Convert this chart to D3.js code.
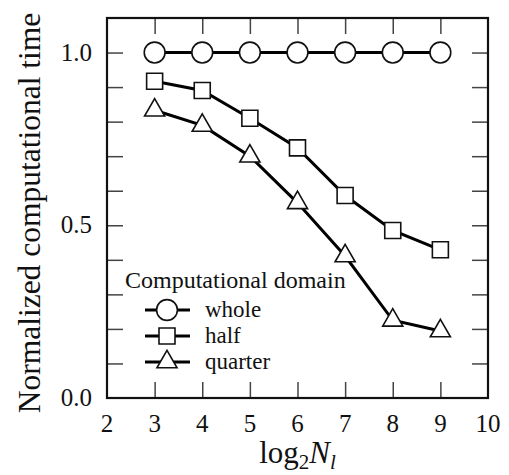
<!DOCTYPE html>
<html lang="en">
  <head>
    <meta charset="UTF-8" />
    <script src="https://d3js.org/d3.v7.min.js"></script>
    <title>Normalized computational time</title>
    <style>
      body { margin: 0; background: #fff; }
    </style>
  </head>
  <body>
    <div id="chart-container"></div>

    <script>
      // data
      const levels = [3, 4, 5, 6, 7, 8, 9];
      const whole = [1.0, 1.0, 1.0, 1.0, 1.0, 1.0, 1.0];
      const half = [0.917, 0.890, 0.810, 0.724, 0.586, 0.485, 0.429];
      const quarter = [0.833, 0.789, 0.700, 0.565, 0.411, 0.225, 0.194];
      const seriesNames = ["whole", "half", "quarter"];
      const xTickLabels = [2, 3, 4, 5, 6, 7, 8, 9, 10];
      const yTickLabels = [0.0, 0.5, 1.0];

      const series = [
        { name: "whole", values: whole, shape: d3.symbolCircle, size: 340 },
        { name: "half", values: half, shape: d3.symbolSquare, size: 256 },
        { name: "quarter", values: quarter, shape: d3.symbolTriangle, size: 175 },
      ];

      const serif = "'Liberation Serif', 'DejaVu Serif', serif";
      const W = 509, H = 475;
      const margin = { top: 18, right: 21, bottom: 77, left: 107 };
      const width = W - margin.left - margin.right;
      const height = H - margin.top - margin.bottom;

      const svg = d3
        .select("#chart-container")
        .append("svg")
        .attr("width", W)
        .attr("height", H)
        .attr("font-family", serif)
        .append("g")
        .attr("transform", "translate(" + margin.left + "," + margin.top + ")");

      const x = d3.scaleLinear().domain([2, 10]).range([0, width]);
      const y = d3.scaleLinear().domain([0, 1.1]).range([height, 0]);

      const tickLen = 16;
      const minorY = d3.range(1, 11).map((d) => d / 10);

      // inward ticks on all four sides
      const styleAxis = (g) => {
        g.select(".domain").remove();
        g.selectAll(".tick line").attr("stroke", "#444").attr("stroke-width", 1.5);
      };

      svg.append("g")
        .attr("transform", "translate(0," + height + ")")
        .call(d3.axisBottom(x).tickValues(levels).tickSize(-tickLen).tickFormat(""))
        .call(styleAxis);
      svg.append("g")
        .call(d3.axisTop(x).tickValues(levels).tickSize(-tickLen).tickFormat(""))
        .call(styleAxis);
      svg.append("g")
        .call(d3.axisLeft(y).tickValues(minorY).tickSize(-tickLen).tickFormat(""))
        .call(styleAxis);
      svg.append("g")
        .attr("transform", "translate(" + width + ",0)")
        .call(d3.axisRight(y).tickValues(minorY).tickSize(-tickLen).tickFormat(""))
        .call(styleAxis);

      // tick labels
      svg.append("g")
        .selectAll("text")
        .data(xTickLabels)
        .join("text")
        .attr("x", (d) => x(d))
        .attr("y", height + 34)
        .attr("text-anchor", "middle")
        .style("font-family", serif)
        .style("font-size", "25px")
        .attr("fill", "#111")
        .text((d) => d);

      svg.append("g")
        .selectAll("text")
        .data(yTickLabels)
        .join("text")
        .attr("x", -15)
        .attr("y", (d) => y(d) + 8)
        .attr("text-anchor", "end")
        .style("font-family", serif)
        .style("font-size", "25px")
        .attr("fill", "#111")
        .text((d) => d3.format(".1f")(d));

      // frame
      svg.append("rect")
        .attr("width", width)
        .attr("height", height)
        .attr("fill", "none")
        .attr("stroke", "#111")
        .attr("stroke-width", 2.2);

      // lines and markers
      const line = d3.line()
        .x((d, i) => x(levels[i]))
        .y((d) => y(d));

      series.forEach((s) => {
        svg.append("path")
          .datum(s.values)
          .attr("fill", "none")
          .attr("stroke", "#000")
          .attr("stroke-width", 3)
          .attr("d", line);
      });

      series.forEach((s) => {
        svg.append("g")
          .selectAll("path")
          .data(s.values)
          .join("path")
          .attr("transform", (d, i) => "translate(" + x(levels[i]) + "," + y(d) + ")")
          .attr("d", d3.symbol(s.shape, s.size)())
          .attr("fill", "#fff")
          .attr("stroke", "#111")
          .attr("stroke-width", 1.6);
      });

      // legend
      const legend = svg.append("g").attr("transform", "translate(18,270)");
      legend.append("text")
        .attr("x", 0)
        .attr("y", 0)
        .style("font-family", serif)
        .style("font-size", "24px")
        .attr("fill", "#111")
        .text("Computational domain");

      const rows = legend.selectAll("g.row")
        .data(series)
        .join("g")
        .attr("class", "row")
        .attr("transform", (d, i) => "translate(0," + (22 + i * 26) + ")");
      rows.append("line")
        .attr("x1", 20).attr("x2", 65)
        .attr("stroke", "#000").attr("stroke-width", 3);
      rows.append("path")
        .attr("transform", "translate(42,0)")
        .attr("d", (d) => d3.symbol(d.shape, d.size)())
        .attr("fill", "#fff")
        .attr("stroke", "#111")
        .attr("stroke-width", 1.6);
      rows.append("text")
        .attr("x", 80)
        .attr("y", 7)
        .style("font-family", serif)
        .style("font-size", "23px")
        .attr("fill", "#111")
        .text((d, i) => seriesNames[i]);

      // axis titles
      const xt = svg.append("text")
        .attr("x", width / 2)
        .attr("y", height + 65)
        .attr("text-anchor", "middle")
        .style("font-family", serif)
        .style("font-size", "31px")
        .attr("fill", "#111");
      xt.append("tspan").text("log");
      xt.append("tspan").attr("dy", 6).style("font-size", "21px").text("2");
      xt.append("tspan").attr("dy", -6).style("font-style", "italic").text("N");
      xt.append("tspan").attr("dy", 6).style("font-size", "21px").style("font-style", "italic").text("l");

      svg.append("text")
        .attr("transform", "translate(" + (-67) + "," + (height / 2 + 5) + ") rotate(-90)")
        .attr("text-anchor", "middle")
        .style("font-family", serif)
        .style("font-size", "31.5px")
        .attr("fill", "#111")
        .text("Normalized computational time");
    </script>
  </body>
</html>
